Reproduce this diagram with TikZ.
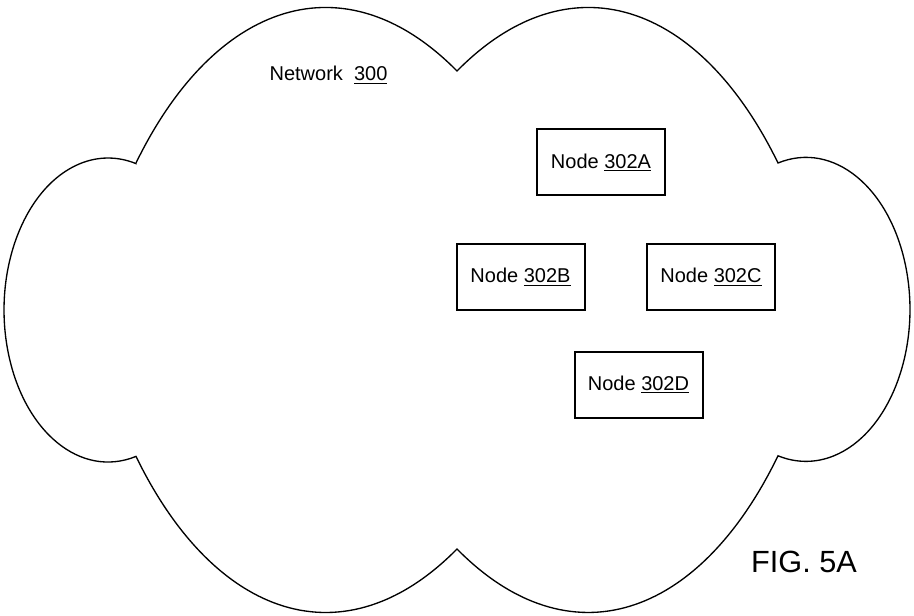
\documentclass[tikz,border=0pt]{standalone}
\usepackage{fontspec}
\setmainfont{Liberation Sans}
\begin{document}
\begin{tikzpicture}[x=0.75pt,y=0.75pt,
  netnode/.style={draw,line width=1.5pt,minimum width=96pt,minimum height=49.5pt,inner sep=0pt,font=\fontsize{15}{18}\selectfont}]
  \useasboundingbox (0,0) rectangle (914,615);
  \draw[line width=1pt] (136,452) .. controls (215,614) and (345,657.6) .. (457,544)
    .. controls (569,657.6) and (699,614) .. (778,452)
    arc[start angle=105.6,end angle=-105.6,x radius=104,y radius=152]
    .. controls (699,-4) and (569,-47.6) .. (457,66)
    .. controls (345,-47.6) and (215,-4) .. (136,158.6)
    arc[start angle=285.6,end angle=74.4,x radius=104,y radius=152] -- cycle;
  \node[font=\fontsize{15}{18}\selectfont] (net300) at (328.5,540) {Network~~\underline{300}};
  \node[netnode] (n302a) at (601,452.5) {Node \underline{302A}};
  \node[netnode] (n302b) at (520.5,338) {Node \underline{302B}};
  \node[netnode] (n302c) at (711,338) {Node \underline{302C}};
  \node[netnode] (n302d) at (638.5,230.5) {Node \underline{302D}};
  \node[font=\fontsize{23}{27}\selectfont] (fig5a) at (804,53.5) {FIG. 5A};
\end{tikzpicture}
\end{document}
